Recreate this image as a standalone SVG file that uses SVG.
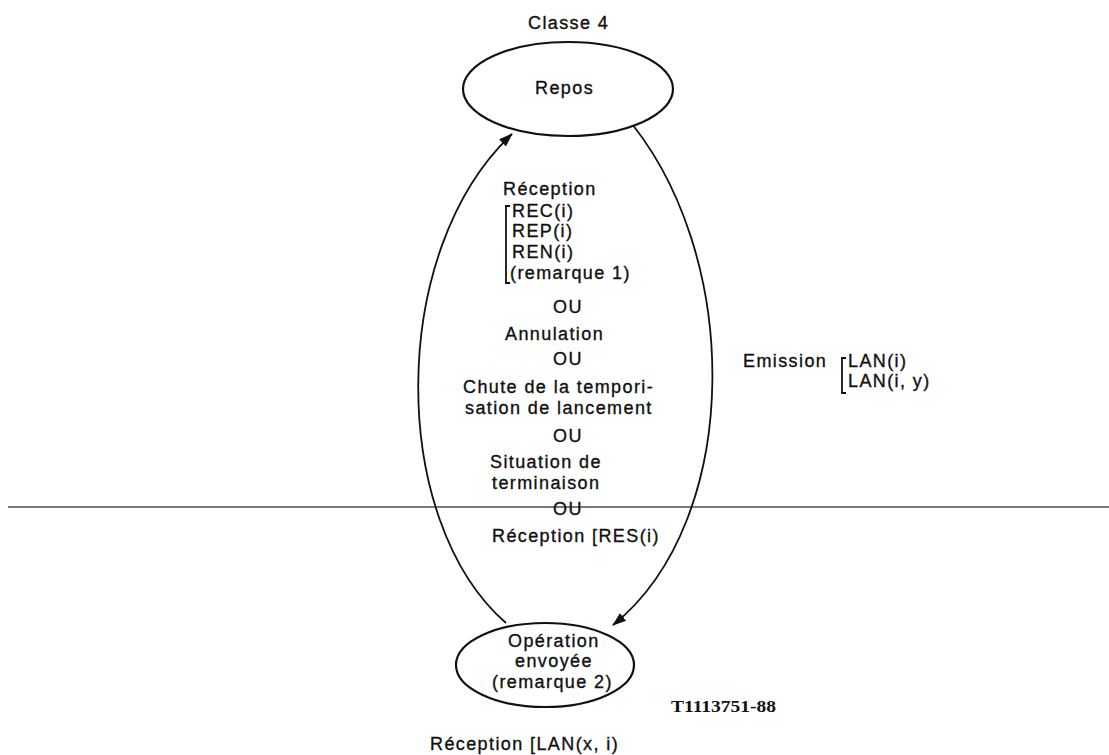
<svg xmlns="http://www.w3.org/2000/svg" width="1109" height="755" viewBox="0 0 1109 755">
<style>
.t{font-family:"Liberation Sans",Arial,sans-serif;font-size:18px;letter-spacing:1.4px;fill:#111;stroke:#111;stroke-width:0.35px}
.node{fill:#fff;stroke:#111;stroke-width:2.2}
.edge{fill:none;stroke:#111;stroke-width:1.8}
.br{fill:none;stroke:#111;stroke-width:1.8}
</style>
<defs>
<marker id="arr" viewBox="0 0 14 10" refX="13" refY="5" markerWidth="14" markerHeight="10" markerUnits="userSpaceOnUse" orient="auto">
<path d="M0,0 L14,5 L0,10 z" fill="#111"/>
</marker>
</defs>
<rect width="1109" height="755" fill="#fff"/>
<line x1="8" y1="507" x2="1109" y2="507" stroke="#7a7a7a" stroke-width="2"/>
<g id="connectors">
<path class="edge" d="M506,623 C388,520 388,250 512,134" marker-end="url(#arr)"/>
<path class="edge" d="M622,112 C744,250 744,520 613,625" marker-end="url(#arr)"/>
</g>
<g id="node-repos">
<ellipse class="node" cx="568" cy="89" rx="105" ry="47"/>
<text class="t" x="535" y="94">Repos</text>
</g>
<g id="node-operation">
<ellipse class="node" cx="545" cy="665" rx="89" ry="42"/>
<text class="t" x="508" y="647">Opération</text>
<text class="t" x="515" y="667">envoyée</text>
<text class="t" x="492" y="688">(remarque 2)</text>
</g>
<g id="labels">
<text class="t" x="528" y="29">Classe 4</text>
<text class="t" x="503" y="195">Réception</text>
<path class="br" d="M510,206 L506,206 L506,283 L510,283"/>
<text class="t" x="512" y="217">REC(i)</text>
<text class="t" x="512" y="237">REP(i)</text>
<text class="t" x="512" y="258">REN(i)</text>
<text class="t" x="510" y="279">(remarque 1)</text>
<text class="t" x="553" y="313">OU</text>
<text class="t" x="505" y="340">Annulation</text>
<text class="t" x="553" y="365">OU</text>
<text class="t" x="463" y="393">Chute de la tempori-</text>
<text class="t" x="465" y="414">sation de lancement</text>
<text class="t" x="553" y="442">OU</text>
<text class="t" x="490" y="468">Situation de</text>
<text class="t" x="492" y="489">terminaison</text>
<text class="t" x="553" y="515">OU</text>
<text class="t" x="492" y="542">Réception [RES(i)</text>
<text class="t" x="743" y="367">Emission</text>
<path class="br" d="M846,358 L842,358 L842,393 L846,393"/>
<text class="t" x="848" y="367">LAN(i)</text>
<text class="t" x="848" y="387">LAN(i, y)</text>
<text x="671" y="712" font-family="Liberation Serif,'Times New Roman',serif" font-weight="bold" font-size="17" textLength="105" lengthAdjust="spacingAndGlyphs" fill="#111">T1113751-88</text>
<text class="t" x="430" y="750">Réception [LAN(x, i)</text>
</g>
</svg>
